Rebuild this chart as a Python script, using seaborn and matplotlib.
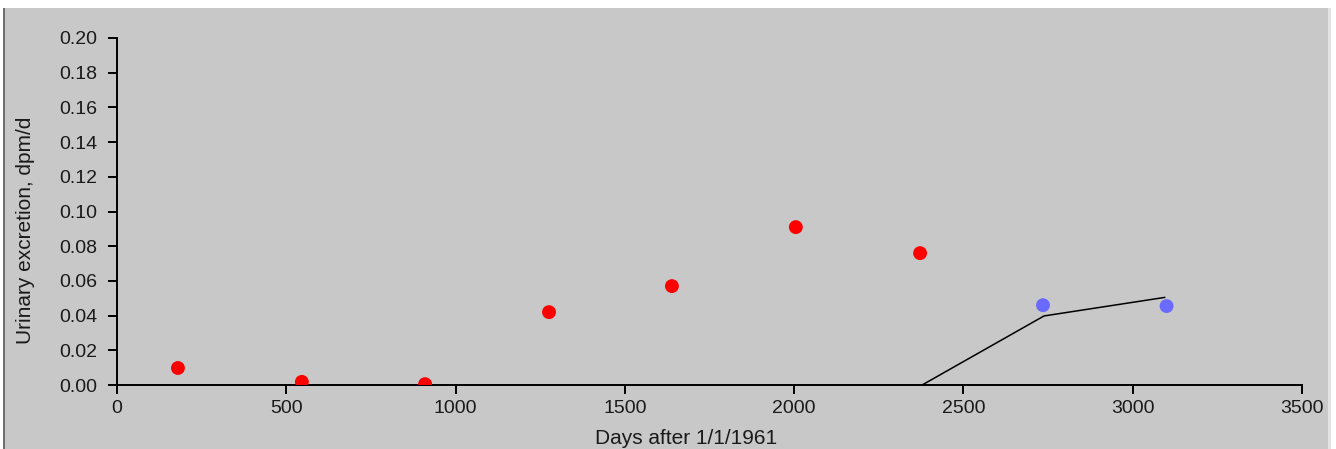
import pandas as pd
import seaborn as sns
import matplotlib.pyplot as plt
from matplotlib.patches import Rectangle

# measured urinary excretion (red), later samples (blue), model curve (black)
red_days = [180, 546, 910, 1276, 1639, 2005, 2372]
red_vals = [0.0098, 0.0018, 0.0005, 0.042, 0.057, 0.091, 0.076]
blue_days = [2735, 3100]
blue_vals = [0.046, 0.0455]
fit_days = [2378, 2738, 3095]
fit_vals = [0.0, 0.0398, 0.0505]

red_df = pd.DataFrame({"day": red_days, "val": red_vals})
blue_df = pd.DataFrame({"day": blue_days, "val": blue_vals})
fit_df = pd.DataFrame({"day": fit_days, "val": fit_vals})

sns.set_style("ticks")
plt.rcParams["font.family"] = ["Liberation Sans", "DejaVu Sans"]

fig = plt.figure(figsize=(13.36, 4.49), dpi=100)
fig.patch.set_facecolor("white")
# grey panel behind everything, with thin white band at top
fig.add_artist(Rectangle((4 / 1336, 0), 1324 / 1336, 441 / 449,
                         transform=fig.transFigure, facecolor="#c8c8c8",
                         edgecolor="none", zorder=-10))
fig.add_artist(Rectangle((3 / 1336, 0), 2 / 1336, 441 / 449,
                         transform=fig.transFigure, facecolor="#6e6e6e",
                         edgecolor="none", zorder=-9))
fig.add_artist(Rectangle((1328 / 1336, 0), 3 / 1336, 441 / 449,
                         transform=fig.transFigure, facecolor="#e2e2e2",
                         edgecolor="none", zorder=-9))

ax = fig.add_axes([117 / 1336, 1 - 385 / 449, 1185 / 1336, 347 / 449])
ax.set_facecolor("none")

sns.lineplot(data=fit_df, x="day", y="val", color="black", linewidth=1.1, ax=ax)
sns.scatterplot(data=red_df, x="day", y="val", color="#ff0000", s=100,
                edgecolor="none", ax=ax, zorder=3)
sns.scatterplot(data=blue_df, x="day", y="val", color="#6a6aff", s=100,
                edgecolor="none", ax=ax, zorder=3)

ax.set_xlim(0, 3500)
ax.set_ylim(0, 0.2)
ax.set_xticks(range(0, 3501, 500))
ax.set_yticks([i * 0.02 for i in range(11)])
ax.set_yticklabels([f"{i * 0.02:.2f}" for i in range(11)])
ax.tick_params(direction="out", length=6.5, width=1.4, labelsize=14,
               colors="black", labelcolor="#1a1a1a")
ax.tick_params(axis="y", pad=7.5)
ax.tick_params(axis="x", pad=4)
for side in ["top", "right"]:
    ax.spines[side].set_visible(False)
for side in ["left", "bottom"]:
    ax.spines[side].set_linewidth(1.4)
    ax.spines[side].set_color("black")

ax.set_xlabel("Days after 1/1/1961", fontsize=15, color="#1a1a1a")
ax.set_ylabel("Urinary excretion, dpm/d", fontsize=15, color="#1a1a1a")
ax.xaxis.set_label_coords((686 - 117) / 1185, -(438 - 385) / 347)
ax.yaxis.set_label_coords(-(117 - 26) / 1185, (385 - 230) / 347)
ax.xaxis.label.set_va("center")
ax.yaxis.label.set_va("center")

fig.savefig("out.png", dpi=100)
